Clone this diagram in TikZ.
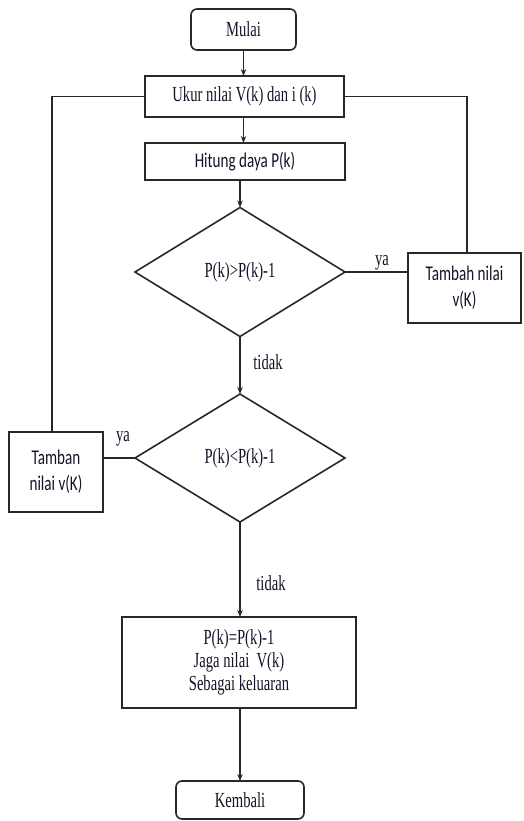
\documentclass[tikz,border=0pt]{standalone}
\usepackage{fontspec}
\usetikzlibrary{shapes.geometric,arrows.meta}
\newfontfamily\tnrfont[FakeStretch=0.68]{Liberation Serif}
\newfontfamily\sansfontc[FakeStretch=0.72]{Carlito}
\definecolor{linec}{RGB}{40,40,40}
\definecolor{txtc}{RGB}{20,20,40}
\begin{document}
\begin{tikzpicture}[x=1pt,y=-1pt,
  box/.style={draw=linec, line width=1.6pt, rectangle, inner sep=0pt, outer sep=0pt, align=center, text=txtc},
  rbox/.style={box, rounded corners=6pt},
  dec/.style={draw=linec, line width=1.6pt, diamond, inner sep=0pt, outer sep=0pt, text=txtc},
  serif/.style={font=\tnrfont\fontsize{21.5}{23}\selectfont},
  sans/.style={font=\sansfontc\fontsize{21}{26}\selectfont},
  arr/.style={draw=linec, line width=1.5pt, -{Stealth[length=7pt,width=5.5pt]}},
  ln/.style={draw=linec, line width=1.5pt},
  lbl/.style={serif, inner sep=0pt, text=txtc}]
\fill[white] (0,0) rectangle (523,821);
\useasboundingbox (0,0) rectangle (523,821);

\node[rbox, serif, minimum width=105pt, minimum height=41pt] (mulai) at (243.5,29.5) {Mulai};
\node[box, serif, minimum width=199pt, minimum height=41pt] (ukur) at (244.5,96.5) {Ukur nilai V(k) dan i (k)};
\node[box, sans, minimum width=200pt, minimum height=37pt] (hitung) at (245,161.5) {Hitung daya P(k)};
\node[dec, serif, minimum width=210pt, minimum height=129pt] (d1) at (240,272) {P(k)>P(k)-1};
\node[box, sans, minimum width=113pt, minimum height=70pt] (tambah) at (464.5,288) {Tambah nilai\\v(K)};
\node[dec, serif, minimum width=210pt, minimum height=128pt] (d2) at (240,458) {P(k)<P(k)-1};
\node[box, sans, minimum width=94pt, minimum height=80pt] (tamban) at (56,472) {Tamban\\nilai v(K)};
\node[box, serif, minimum width=234pt, minimum height=91pt] (akhir) at (239,662.5) {P(k)=P(k)-1\\Jaga nilai\ \ V(k)\\Sebagai keluaran};
\node[rbox, serif, minimum width=128pt, minimum height=38pt] (kembali) at (240,800) {Kembali};

\draw[arr] (mulai.south) -- (mulai.south |- ukur.north);
\draw[arr] (ukur.south -| mulai.south) -- (mulai.south |- hitung.north);
\draw[arr] (hitung.south -| d1.north) -- (d1.north);
\draw[arr] (d1.south) -- (d2.north);
\draw[arr] (d2.south) -- (d2.south |- akhir.north);
\draw[arr] (akhir.south -| kembali.north) -- (kembali.north);

\draw[ln] (d1.east) -- (d1.east -| tambah.west);
\draw[ln] ([xshift=2.5pt]tambah.north) |- (ukur.east);
\draw[ln] (d2.west) -- (d2.west -| tamban.east);
\draw[ln] ([xshift=-4pt]tamban.north) |- (ukur.west);

\node[lbl] (ya1) at (382,263) {ya};
\node[lbl] (tidak1) at (268,362) {tidak};
\node[lbl] (ya2) at (123,439) {ya};
\node[lbl] (tidak2) at (271,583) {tidak};
\end{tikzpicture}
\end{document}
